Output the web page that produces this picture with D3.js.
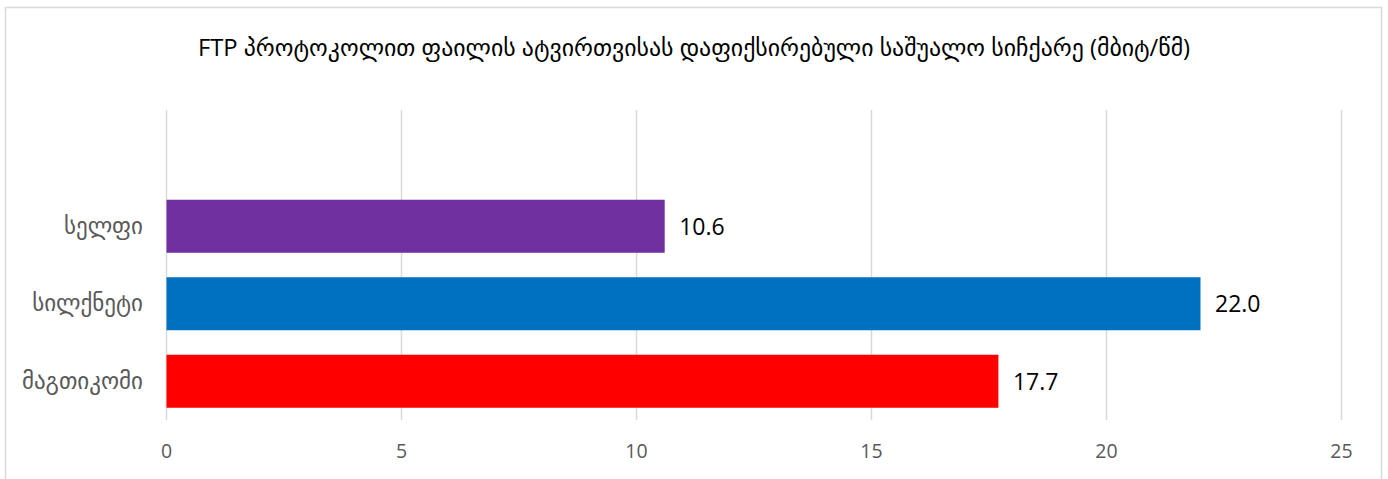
<!DOCTYPE html>
<html>
<head>
<meta charset="utf-8">
<script src="https://cdn.jsdelivr.net/npm/d3@7"></script>
<style>
	body { margin: 0; background: #fff; }
	text { font-family: "Open Sans", "DejaVu Sans", sans-serif; }
</style>
</head>
<body>
<div id="chart"></div>
<script>

// data, top to bottom as shown
var title = 'FTP პროტოკოლით ფაილის ატვირთვისას დაფიქსირებული საშუალო სიჩქარე (მბიტ/წმ)';
var categories = ['სელფი', 'სილქნეტი', 'მაგთიკომი'];
var speeds = [10.6, 22.0, 17.7];
var barColors = ['#7030a0', '#0070c0', '#ff0000'];
var xTicks = [0, 5, 10, 15, 20, 25];

function renderCanvas(h, w) {
	var svg = d3.select('#chart')
		.append('svg')
		.attr('height', h)
		.attr('width', w);
	return svg;
}

function renderChart() {
	var w = 1388, h = 479;
	var svg = renderCanvas(h, w);

	// chart frame
	svg.append('rect')
		.attr('x', 5.5)
		.attr('y', 7.5)
		.attr('width', 1376)
		.attr('height', 490)
		.attr('fill', 'none')
		.attr('stroke', '#d9d9d9')
		.attr('stroke-width', 1.5);

	svg.append('text')
		.attr('x', 694)
		.attr('y', 56)
		.attr('text-anchor', 'middle')
		.attr('font-size', 23.8)
		.attr('fill', '#000')
		.text(title);

	var x = d3.scaleLinear()
		.domain([0, 25])
		.range([166, 1341]);

	// empty slot on top, like the source chart
	var y = d3.scaleBand()
		.domain([''].concat(categories))
		.range([110, 420])
		.paddingInner(0.316)
		.paddingOuter(0.158);

	// vertical gridlines
	svg.append('g')
		.selectAll('line')
		.data(xTicks)
		.enter()
		.append('line')
		.attr('x1', function(d) { return x(d) + 0.5; })
		.attr('x2', function(d) { return x(d) + 0.5; })
		.attr('y1', 110)
		.attr('y2', 420)
		.attr('stroke', '#d9d9d9')
		.attr('stroke-width', 1.5);

	var xAxis = svg.append('g')
		.attr('transform', 'translate(0,420)')
		.call(d3.axisBottom(x).tickValues(xTicks).tickSize(0).tickPadding(24));
	xAxis.select('.domain').remove();
	xAxis.selectAll('text')
		.attr('font-size', 19.5)
		.attr('fill', '#595959')
		.style('font-family', '"Open Sans", sans-serif');

	var yAxis = svg.append('g')
		.attr('transform', 'translate(166,0)')
		.call(d3.axisLeft(y).tickSize(0).tickPadding(23));
	yAxis.select('.domain').remove();
	yAxis.selectAll('text')
		.attr('font-size', 23)
		.attr('fill', '#595959')
		.style('font-family', '"DejaVu Sans", sans-serif');

	svg.selectAll('rect.bar')
		.data(speeds)
		.enter()
		.append('rect')
		.attr('class', 'bar')
		.attr('x', x(0) + 0.5)
		.attr('y', function(d, i) { return y(categories[i]); })
		.attr('width', function(d) { return x(d) - x(0); })
		.attr('height', y.bandwidth())
		.attr('fill', function(d, i) { return barColors[i]; });

	svg.selectAll('text.val')
		.data(speeds)
		.enter()
		.append('text')
		.attr('class', 'val')
		.attr('x', function(d) { return x(d) + 15; })
		.attr('y', function(d, i) { return y(categories[i]) + y.bandwidth() / 2; })
		.attr('dy', '0.36em')
		.attr('font-size', 23)
		.attr('fill', '#000')
		.text(function(d) { return d.toFixed(1); });
}

renderChart();
</script>
</body>
</html>
